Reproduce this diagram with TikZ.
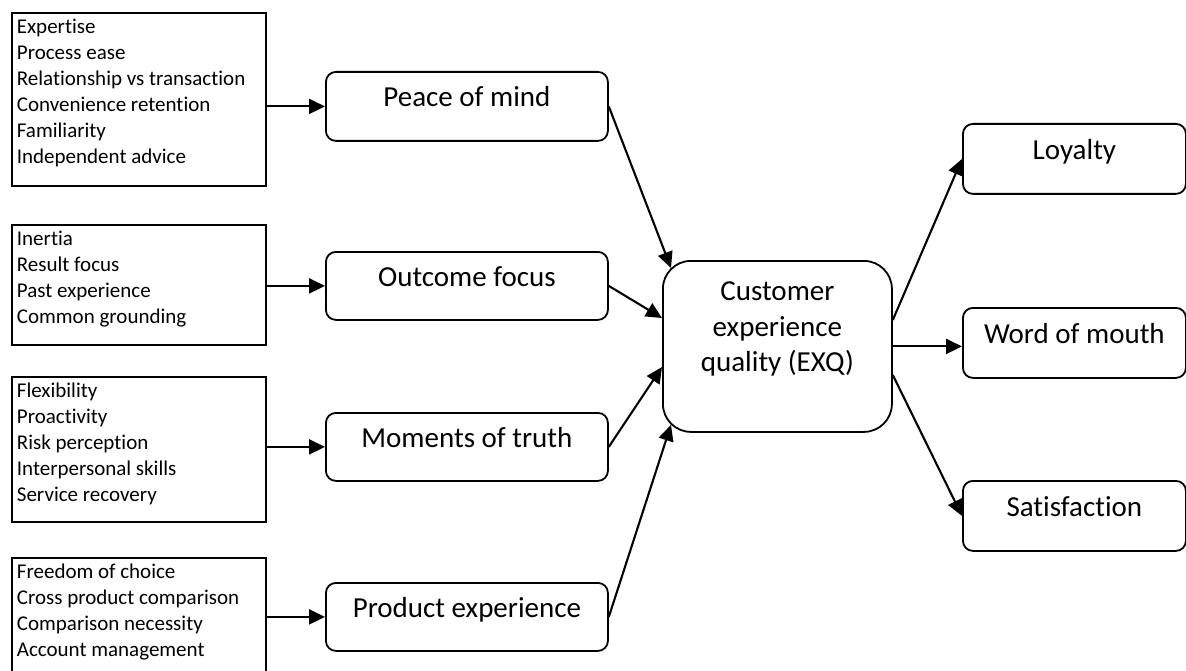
\documentclass[tikz,border=0pt]{standalone}
\usepackage{fontspec}
\setmainfont{Carlito}[Ligatures=NoCommon]
\usetikzlibrary{arrows.meta,calc}
\newcommand\listtext[2]{\begin{minipage}[c][#1][t]{244pt}\fontsize{21pt}{26pt}\selectfont\raggedright\rule{0pt}{21pt}#2\end{minipage}}
\newcommand\boxtext[4]{\begin{minipage}[c][#1][t]{#2}\fontsize{29pt}{35.5pt}\selectfont\centering\rule{0pt}{#3}#4\end{minipage}}
\tikzset{
  listbox/.style={draw, line width=1.8pt, rectangle, inner xsep=5pt, inner ysep=0pt, anchor=north west},
  midbox/.style={draw, line width=1.8pt, rectangle, rounded corners=10pt, inner sep=0pt, anchor=north west},
  bigbox/.style={draw, line width=1.8pt, rectangle, rounded corners=28pt, inner sep=0pt, anchor=north west},
  arr/.style={line width=2.1pt, -{Triangle[length=16pt,width=15pt]}}
}
\begin{document}
\begin{tikzpicture}[x=1pt,y=-1pt]
\path[use as bounding box, clip] (0,0) rectangle (1186,671);
\fill[white] (0,0) rectangle (1186,671);
% left lists
\node[listbox] (l1) at (11,12) {\listtext{173pt}{Expertise\\Process ease\\Relationship vs transaction\\Convenience retention\\Familiarity\\Independent advice}};
\node[listbox] (l2) at (11,224) {\listtext{120pt}{Inertia\\Result focus\\Past experience\\Common grounding}};
\node[listbox] (l3) at (11,376) {\listtext{145pt}{Flexibility\\Proactivity\\Risk perception\\Interpersonal skills\\Service recovery}};
\node[listbox] (l4) at (11,557) {\listtext{123pt}{Freedom of choice\\Cross product comparison\\Comparison necessity\\Account management}};
% middle boxes
\node[midbox] (m1) at (325,71) {\boxtext{69pt}{282pt}{35pt}{Peace of mind}};
\node[midbox] (m2) at (325,251) {\boxtext{68pt}{282pt}{35pt}{Outcome focus}};
\node[midbox] (m3) at (325,412) {\boxtext{68pt}{282pt}{35pt}{Moments of truth}};
\node[midbox] (m4) at (325,582) {\boxtext{68pt}{282pt}{35pt}{Product experience}};
% central box
\node[bigbox] (c) at (662,260) {\boxtext{171pt}{229pt}{40pt}{Customer\\experience\\quality (EXQ)}};
% right boxes
\node[midbox] (r1) at (962,123) {\boxtext{70pt}{223pt}{36pt}{Loyalty}};
\node[midbox] (r2) at (962,307) {\boxtext{70pt}{223pt}{36pt}{Word of mouth}};
\node[midbox] (r3) at (962,480) {\boxtext{70pt}{223pt}{36pt}{Satisfaction}};
% arrows left -> middle
\draw[arr] (l1.east |- m1.west) -- (m1.west);
\draw[arr] (l2.east |- m2.west) -- (m2.west);
\draw[arr] (l3.east |- m3.west) -- (m3.west);
\draw[arr] (l4.east |- m4.west) -- (m4.west);
% middle -> central
\draw[arr] (m1.east) -- ($(c.north west)+(9,8)$);
\draw[arr] (m2.east) -- ($(c.north west)+(0,58)$);
\draw[arr] (m3.east) -- ($(c.north west)+(0,107)$);
\draw[arr] (m4.east) -- ($(c.south west)+(9,-8)$);
% central -> right
\draw[arr] ($(c.north east)+(0,60)$) -- (r1.west);
\draw[arr] (c.east) -- (c.east -| r2.west);
\draw[arr] ($(c.north east)+(0,115)$) -- (r3.west);
\end{tikzpicture}
\end{document}
